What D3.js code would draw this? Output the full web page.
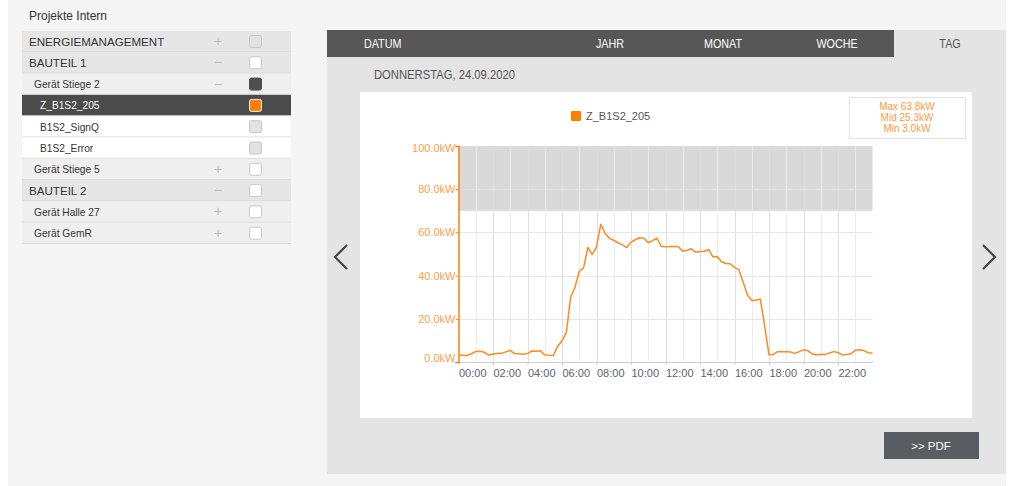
<!DOCTYPE html>
<html>
<head>
<meta charset="utf-8">
<script src="https://cdn.jsdelivr.net/npm/d3@7"></script>
<style>
  body { margin: 0; background: #fff; }
  svg { display: block; font-family: "Liberation Sans", Arial, sans-serif; }
</style>
</head>
<body>
<div id="main"></div>
<script>
// tree on the left
const treeLabels = ["ENERGIEMANAGEMENT", "BAUTEIL 1", "Gerät Stiege 2", "Z_B1S2_205", "B1S2_SignQ",
  "B1S2_Error", "Gerät Stiege 5", "BAUTEIL 2", "Gerät Halle 27", "Gerät GemR"];
const treeLevels = [0, 0, 1, 2, 2, 2, 1, 0, 1, 1];
const treeSigns = ["+", "−", "−", "", "", "", "+", "−", "+", "+"];
const treeChecks = ["gray", "white", "dark", "orange", "gray", "gray", "white", "white", "white", "white"];

const tabs = ["JAHR", "MONAT", "WOCHE"];
const yTicks = [0, 20, 40, 60, 80, 100];

// load, kW, every 15 minutes from 00:00 to 24:00
const load = [3.3, 3.1, 3.0, 3.8, 4.9, 5.0, 4.5, 3.2, 3.7, 3.9, 4.0, 4.7, 5.4, 3.9, 3.8, 3.6,
  3.9, 5.1, 5.0, 5.2, 3.3, 3.1, 3.0, 7.3, 9.8, 13.6, 30.0, 34.5, 42.0, 43.6, 53.0, 49.8,
  53.2, 63.8, 59.5, 57.3, 56.3, 55.2, 54.2, 53.0, 55.5, 56.6, 57.5, 57.3, 55.2, 56.2, 57.3, 53.6,
  53.3, 53.5, 53.5, 53.4, 51.3, 51.7, 52.4, 50.8, 51.2, 51.3, 52.1, 48.7, 48.8, 46.4, 45.6, 45.5,
  43.8, 42.8, 37.0, 31.0, 28.4, 28.7, 29.1, 16.5, 3.3, 3.5, 4.8, 4.8, 4.8, 4.6, 4.0, 4.8,
  5.6, 5.3, 3.8, 3.2, 3.6, 3.4, 4.2, 4.8, 4.4, 3.3, 3.5, 3.8, 5.4, 5.7, 5.3, 4.3, 4.2];
const statLines = ["Max 63.8kW", "Mid 25.3kW", "Min 3.0kW"];
const limitKW = 70;

const orange = "#ff8000";
const day = new Date(2020, 8, 24);
const data = load.map((v, i) => ({ t: d3.timeMinute.offset(day, i * 15), v: v }));

const svg = d3.select("#main").append("svg")
  .attr("width", 1013).attr("height", 486);

// page + panels
svg.append("rect").attr("x", 8).attr("y", 0).attr("width", 998).attr("height", 486).attr("fill", "#f5f5f5");
svg.append("text").attr("x", 29).attr("y", 20).attr("font-size", 12).attr("fill", "#333").text("Projekte Intern");

// tree rows
const rowH = 21.3, rowTop = 31;
const rows = svg.append("g").selectAll("g").data(treeLabels).enter().append("g")
  .attr("transform", (d, i) => `translate(22,${rowTop + i * rowH})`);
rows.append("rect").attr("width", 269).attr("height", rowH)
  .attr("fill", (d, i) => i == 3 ? "#4b4b4b" : treeLevels[i] == 0 ? "#e6e6e6" : treeLevels[i] == 1 ? "#efefef" : "#fff");
rows.append("line").attr("x1", 0).attr("x2", 269).attr("y1", rowH - 0.5).attr("y2", rowH - 0.5)
  .attr("stroke", "#d9d9d9");
rows.append("text")
  .attr("x", (d, i) => [7, 12, 18][treeLevels[i]])
  .attr("y", (d, i) => treeLevels[i] == 0 ? 15 : 14.5)
  .attr("font-size", (d, i) => treeLevels[i] == 0 ? 11.6 : 10.2)
  .attr("fill", (d, i) => i == 3 ? "#fff" : "#333")
  .text(d => d);
rows.append("text").attr("x", 196).attr("y", 15).attr("text-anchor", "middle")
  .attr("font-size", 14).attr("fill", "#bdbdbd")
  .text((d, i) => treeSigns[i]);
rows.append("rect").attr("x", 227.5).attr("y", 4.5).attr("width", 12).attr("height", 12).attr("rx", 2)
  .attr("fill", (d, i) => ({ gray: "#e2e2e2", white: "#fff", dark: "#4f4f4f", orange: orange })[treeChecks[i]])
  .attr("stroke", (d, i) => treeChecks[i] == "orange" ? "#f0f0f0" : treeChecks[i] == "dark" ? "#4f4f4f" : "#c8c8c8");

// right panel
svg.append("rect").attr("x", 327).attr("y", 30).attr("width", 679).attr("height", 444).attr("fill", "#e4e4e4");
svg.append("rect").attr("x", 327).attr("y", 30).attr("width", 567).attr("height", 27).attr("fill", "#575757");

// narrow caps for the tabs
function tabText(label, cx, anchor, color) {
  svg.append("text").attr("transform", `translate(${cx},48) scale(0.86,1)`)
    .attr("text-anchor", anchor).attr("font-size", 12.5).attr("fill", color).text(label);
}
tabText("DATUM", 364, "start", "#fff");
tabs.forEach((t, i) => tabText(t, [610, 723, 837][i], "middle", "#fff"));
tabText("TAG", 950, "middle", "#555");
svg.append("text").attr("transform", "translate(374,79) scale(0.9,1)").attr("font-size", 12.5).attr("fill", "#555")
  .text("DONNERSTAG, 24.09.2020");

// arrows
const chev = d3.line();
svg.append("path").attr("d", chev([[347, 245], [335, 257], [347, 269]]))
  .attr("fill", "none").attr("stroke", "#454545").attr("stroke-width", 2.2);
svg.append("path").attr("d", chev([[983, 245], [995, 257], [983, 269]]))
  .attr("fill", "none").attr("stroke", "#454545").attr("stroke-width", 2.2);

// pdf button
svg.append("rect").attr("x", 884).attr("y", 432).attr("width", 95).attr("height", 27).attr("fill", "#595d62");
svg.append("text").attr("x", 931).attr("y", 450).attr("text-anchor", "middle").attr("font-size", 11.5)
  .attr("fill", "#fff").text(">> PDF");

// chart card
svg.append("rect").attr("x", 360).attr("y", 92).attr("width", 612).attr("height", 326).attr("fill", "#fff");

// legend + stats
svg.append("rect").attr("x", 571).attr("y", 111).attr("width", 10).attr("height", 10).attr("rx", 1).attr("fill", orange);
svg.append("text").attr("x", 586).attr("y", 120).attr("font-size", 11).attr("fill", "#555").text("Z_B1S2_205");
svg.append("rect").attr("x", 849.5).attr("y", 97.5).attr("width", 116).attr("height", 41)
  .attr("fill", "#fff").attr("stroke", "#e3e3e3");
svg.selectAll(".stat").data(statLines).enter().append("text")
  .attr("x", 907).attr("y", (d, i) => 109.5 + i * 11.3).attr("text-anchor", "middle")
  .attr("font-size", 10).attr("fill", "#ff9a3c").text(d => d);

// scales
const x = d3.scaleTime().domain([day, d3.timeDay.offset(day, 1)]).range([458.5, 872.5]);
const y = d3.scaleLinear().domain([0, 100]).range([362, 146]);

const plot = svg.append("g");
plot.append("rect").attr("x", x.range()[0]).attr("y", y(100))
  .attr("width", x.range()[1] - x.range()[0]).attr("height", y(limitKW) - y(100)).attr("fill", "#d9d9d9");

// grid
plot.selectAll(".vg").data(d3.timeHour.range(d3.timeHour.offset(day, 1), d3.timeDay.offset(day, 1)))
  .enter().append("line")
  .attr("x1", d => Math.round(x(d)) + 0.5).attr("x2", d => Math.round(x(d)) + 0.5)
  .attr("y1", y(100)).attr("y2", y(0))
  .attr("stroke", d => d.getHours() % 2 ? "#ececec" : "#dedede");
plot.selectAll(".hg").data(yTicks.slice(1, -1)).enter().append("line")
  .attr("x1", x.range()[0]).attr("x2", x.range()[1])
  .attr("y1", d => Math.round(y(d)) + 0.5).attr("y2", d => Math.round(y(d)) + 0.5)
  .attr("stroke", d => d >= limitKW ? "#e2e2e2" : "#e6e6e6");

// x axis
const xAxis = plot.append("g").attr("transform", `translate(0,${y(0)})`)
  .call(d3.axisBottom(x).ticks(d3.timeHour.every(2)).tickFormat(d3.timeFormat("%H:%M")).tickSize(3).tickSizeOuter(0));
xAxis.select(".domain").attr("stroke", "#cfcfcf");
xAxis.selectAll(".tick line").attr("stroke", "#cfcfcf");
xAxis.selectAll(".tick").filter(d => d >= d3.timeDay.offset(day, 1)).remove();
xAxis.selectAll(".tick text").attr("text-anchor", "start").attr("y", 4).attr("dy", "1em")
  .attr("font-size", 11).attr("font-family", "Liberation Sans, Arial, sans-serif").attr("fill", "#5b6470");

// y axis
const yAxis = plot.append("g").attr("transform", `translate(${x.range()[0]},0)`)
  .call(d3.axisLeft(y).tickValues(yTicks).tickFormat(d => d.toFixed(1) + "kW").tickSize(3).tickSizeOuter(3));
yAxis.select(".domain").attr("stroke", orange).attr("stroke-width", 1.5);
yAxis.selectAll(".tick line").attr("stroke", orange);
yAxis.selectAll(".tick text").attr("font-size", 11).attr("font-family", "Liberation Sans, Arial, sans-serif")
  .attr("fill", "#ffa04a").attr("x", -3)
  .attr("y", d => d == 0 ? -4 : d == 100 ? 2 : 0);

// load line
plot.append("path").datum(data)
  .attr("d", d3.line().x(d => x(d.t)).y(d => y(d.v)))
  .attr("fill", "none").attr("stroke", "#ff8a1c").attr("stroke-width", 1.5).attr("stroke-linejoin", "round");
</script>
</body>
</html>
